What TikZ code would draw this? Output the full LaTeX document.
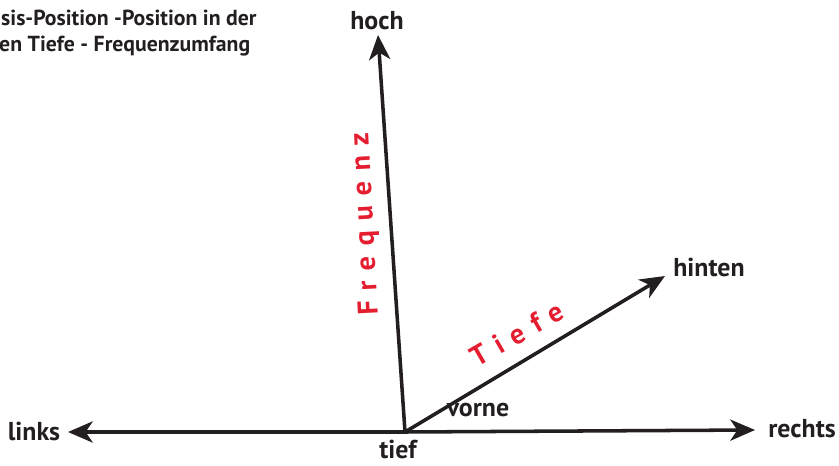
\documentclass[tikz,border=0pt]{standalone}
\usepackage{fontspec}
\setmainfont{PT Sans}
\usetikzlibrary{arrows.meta}
\definecolor{achsrot}{RGB}{228,30,48}
\definecolor{achsgrau}{RGB}{35,31,32}

\begin{document}
\begin{tikzpicture}[
  x=0.85pt, y=-0.85pt,
  achse/.style={draw=achsgrau, line width=3pt, -{Stealth[length=21pt, width=18pt, inset=6pt]}},
  lbl/.style={font=\fontsize{22}{24}\selectfont\bfseries, text=achsgrau, inner sep=0pt},
  rotlbl/.style={font=\fontsize{24}{26}\selectfont\bfseries\addfontfeature{LetterSpace=36}, text=achsrot, inner sep=0pt},
  titel/.style={font=\fontsize{18.5}{21}\selectfont\bfseries, text=achsgrau, inner sep=0pt, anchor=west}
]
\useasboundingbox (0,0) rectangle (839,466);

% Ursprung und Pfeilspitzen
\coordinate (null)   at (405,432);
\coordinate (links)  at (68,432);
\coordinate (rechts) at (755,430);
\coordinate (hoch)   at (378,35);
\coordinate (hinten) at (665,276);

\draw[achse] (null) -- (links);
\draw[achse] (null) -- (rechts);
\draw[achse] (null) -- (hoch);
\draw[achse] (null) -- (hinten);

% Beschriftungen
\node[lbl] (thoch)   at (377,21)  {hoch};
\node[lbl] (tlinks)  at (34,431)  {links};
\node[lbl] (trechts) at (802,429) {rechts};
\node[lbl] (ttief)   at (398,449) {tief};
\node[lbl] (tvorne)  at (478,410) {vorne};
\node[lbl] (thinten) at (709,267) {hinten};

\node[rotlbl, rotate=93] (tfreq) at (366,224) {Frequenz};
\node[rotlbl, rotate=30] (ttiefe) at (517,334) {Tiefe};

% Titel (abgeschnitten)
\node[titel] (titel1) at (1,18) {sis-Position -Position in der};
\node[titel] (titel2) at (-1,46) {en Tiefe - Frequenzumfang};

\end{tikzpicture}
\end{document}
